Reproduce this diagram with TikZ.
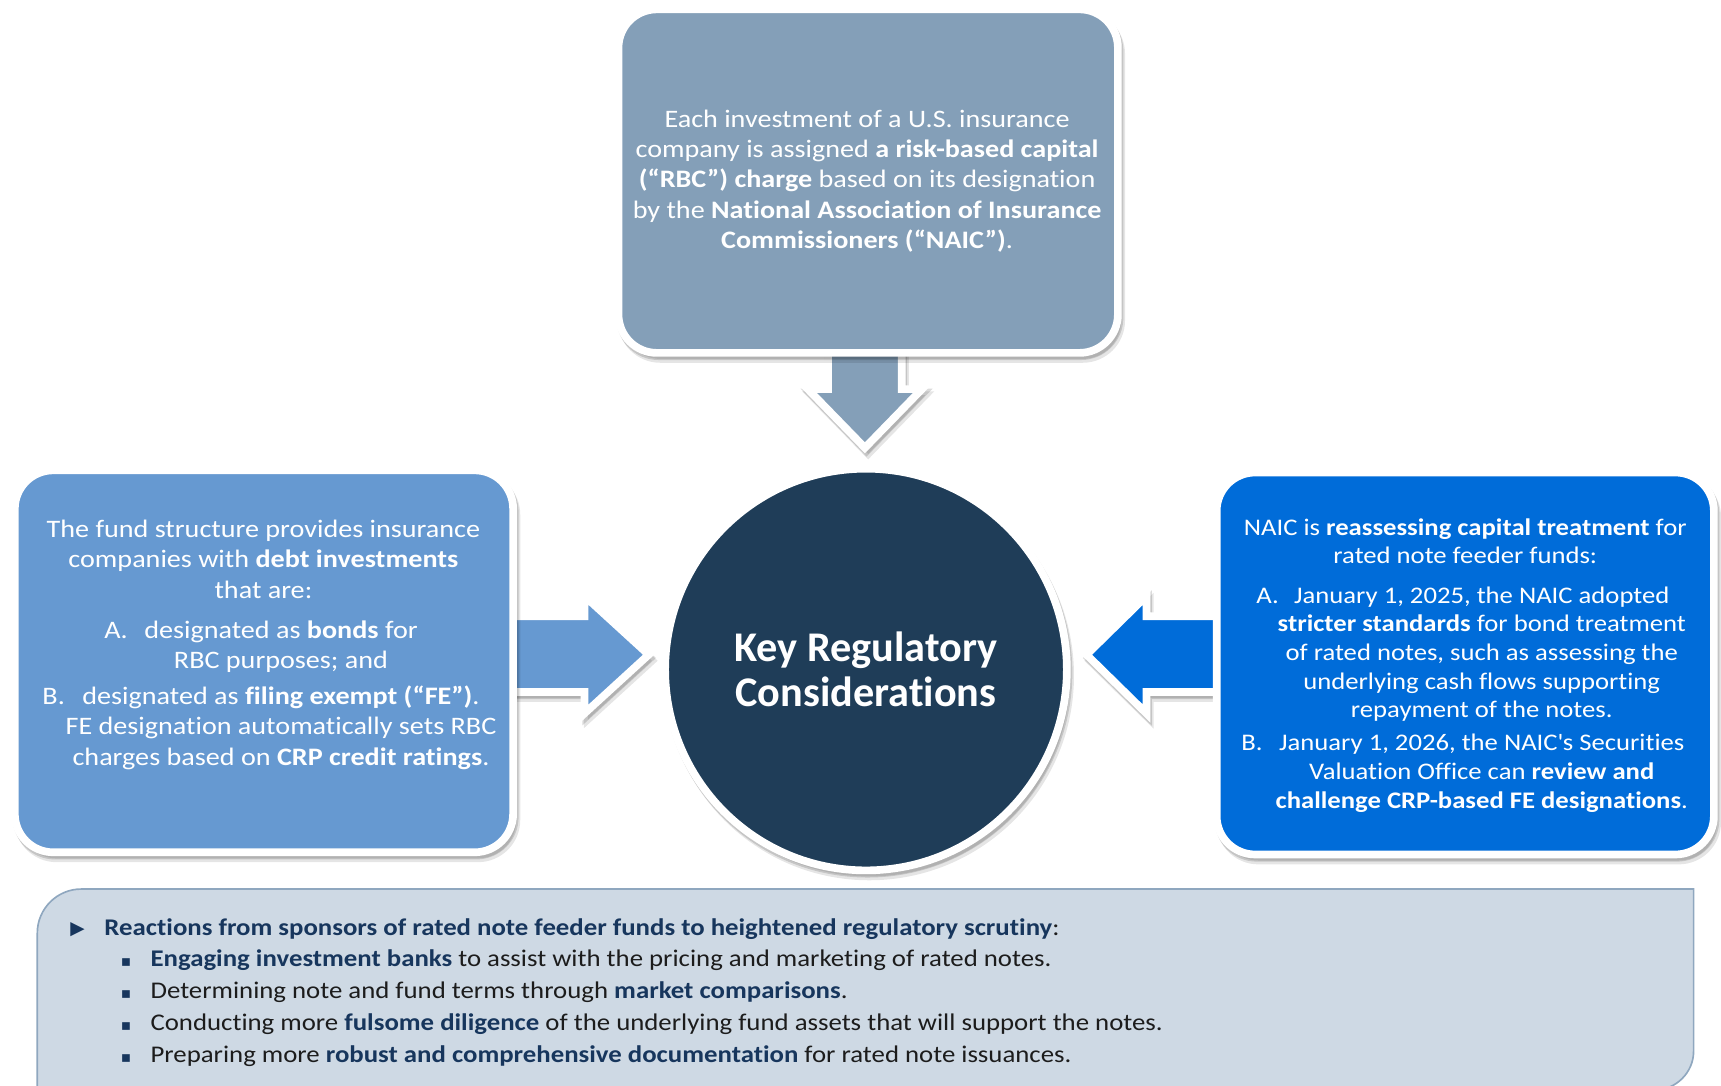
\documentclass[tikz,border=0pt]{standalone}
\usepackage{fontspec}
\setmainfont{Carlito}[FakeStretch=1.12, Ligatures=NoCommon]
\newfontfamily\hubfont{Carlito}[Ligatures=NoCommon]
\newfontfamily\symfont{DejaVu Sans}
\usetikzlibrary{shadows}

\definecolor{slatebox}{HTML}{849FB8}
\definecolor{midblue}{HTML}{6699D1}
\definecolor{brightblue}{HTML}{006CD9}
\definecolor{navycirc}{HTML}{1F3D58}
\definecolor{panelfill}{HTML}{CED9E4}
\definecolor{panelline}{HTML}{8FA7BF}
\definecolor{navytext}{HTML}{17365D}
\definecolor{bodytext}{HTML}{1C1C1C}

\tikzset{
  softshadow/.style={
    general shadow={shadow xshift=1.5pt, shadow yshift=-3pt,
      fill=black, draw=black, line width=7pt, opacity=.14},
    general shadow={shadow xshift=3pt, shadow yshift=-5.5pt,
      fill=black, draw=black, line width=7pt, opacity=.10}},
  whiteedge/.style={draw=white, line width=7pt, line join=round, softshadow},
  card/.style={whiteedge, rounded corners=35pt},
  arrowshape/.style={whiteedge, line join=miter, miter limit=10},
  cardtext/.style={text=white, align=center, inner sep=0pt,
      font=\fontsize{22.9}{27.6}\selectfont},
  cardtextsm/.style={text=white, align=center, inner sep=0pt,
      font=\fontsize{21.7}{26}\selectfont},
  panelline/.style={text=bodytext, anchor=base west, inner sep=0pt,
      font=\fontsize{21.8}{29}\selectfont},
  bulletmark/.style={text=navytext, anchor=base west, inner sep=0pt,
      font=\symfont\fontsize{17}{17}\selectfont},
  squaremark/.style={text=navytext, anchor=base west, inner sep=0pt,
      font=\symfont\fontsize{14}{14}\selectfont},
}

\begin{document}
\begin{tikzpicture}[x=1pt,y=-1pt]
\useasboundingbox (0,0) rectangle (1568,989);

% ---- arrows (drawn first so card edges sit over the shaft ends) ----
\path[arrowshape, fill=slatebox]
  (754.5,315) -- (821.5,315) -- (821.5,354.5) -- (840,354.5) -- (788,408)
  -- (736,354.5) -- (754.5,354.5) -- cycle;
\path[arrowshape, fill=midblue]
  (460,561.5) -- (532.5,561.5) -- (532.5,543) -- (591,596.5) -- (532.5,650)
  -- (532.5,630.5) -- (460,630.5) -- cycle;
\path[arrowshape, fill=brightblue]
  (1116,561.5) -- (1044.5,561.5) -- (1044.5,543) -- (990,596.5) -- (1044.5,650)
  -- (1044.5,630.5) -- (1116,630.5) -- cycle;

% ---- cards ----
\path[card, fill=slatebox] (563.5,8.5) rectangle (1018.5,321.5);
\path[card, fill=midblue] (13.5,428.5) rectangle (467.5,776.5);
\path[card, fill=brightblue] (1108.5,430.5) rectangle (1561.5,778.5);

% ---- centre circle ----
\node[whiteedge, circle, fill=navycirc, minimum size=366pt, inner sep=0pt,
      text=white, align=center,
      font=\hubfont\bfseries\fontsize{38.5}{41}\selectfont] (hub) at (789,610)
  {Key Regulatory\\Considerations};

% ---- top card text ----
\node[cardtext] (toptext) at (790,165)
  {Each investment of a U.S. insurance\\
   company is assigned \textbf{a risk-based capital}\\
   \textbf{(“RBC”) charge} based on its designation\\
   by the \textbf{National Association of Insurance}\\
   \textbf{Commissioners (“NAIC”)}.};

% ---- left card text ----
\node[cardtext] (lintro) at (240,509.5)
  {The fund structure provides insurance\\
   companies with \textbf{debt investments}\\
   that are:};
\node[cardtext] (litemA) at (256,589.5)
  {\llap{A.\hspace{15pt}}designated as \textbf{bonds} for\\
   RBC purposes; and};
\node[cardtext] (litemB) at (256,663)
  {\llap{B.\hspace{16pt}}designated as \textbf{filing exempt (“FE”)}.\\
   FE designation automatically sets RBC\\
   charges based on \textbf{CRP credit ratings}.};

% ---- right card text ----
\node[cardtextsm] (rintro) at (1335,493)
  {NAIC is \textbf{reassessing capital treatment} for\\
   rated note feeder funds:};
\node[cardtextsm] (ritemA) at (1350,596)
  {\llap{A.\hspace{14pt}}January 1, 2025, the NAIC adopted\\
   \textbf{stricter standards} for bond treatment\\
   of rated notes, such as assessing the\\
   underlying cash flows supporting\\
   repayment of the notes.};
\node[cardtextsm] (ritemB) at (1350,704.5)
  {\llap{B.\hspace{15pt}}January 1, 2026, the NAIC\textquotesingle s Securities\\
   Valuation Office can \textbf{review and}\\
   \textbf{challenge CRP-based FE designations}.};

% ---- bottom panel ----
\path[draw=panelline, line width=1.5pt, fill=panelfill]
  (34,995) -- (34,850) .. controls (34,828) and (52,810) .. (74,810)
  -- (1543,810) -- (1543,958) .. controls (1543,977) and (1527,993) .. (1508,993)
  -- (34,993) -- cycle;

\node[bulletmark] (tri) at (64,851) {▶};
\node[panelline] (phead) at (95,852)
  {\textcolor{navytext}{\textbf{Reactions from sponsors of rated note feeder funds to heightened regulatory scrutiny}}:};

\node[squaremark] (b1) at (110,881) {▪};
\node[panelline] (p1) at (137,881)
  {\textcolor{navytext}{\textbf{Engaging investment banks}} to assist with the pricing and marketing of rated notes.};
\node[squaremark] (b2) at (110,910) {▪};
\node[panelline] (p2) at (137,910)
  {Determining note and fund terms through \textcolor{navytext}{\textbf{market comparisons}}.};
\node[squaremark] (b3) at (110,939) {▪};
\node[panelline] (p3) at (137,939)
  {Conducting more \textcolor{navytext}{\textbf{fulsome diligence}} of the underlying fund assets that will support the notes.};
\node[squaremark] (b4) at (110,968) {▪};
\node[panelline] (p4) at (137,968)
  {Preparing more \textcolor{navytext}{\textbf{robust and comprehensive documentation}} for rated note issuances.};
\end{tikzpicture}
\end{document}
